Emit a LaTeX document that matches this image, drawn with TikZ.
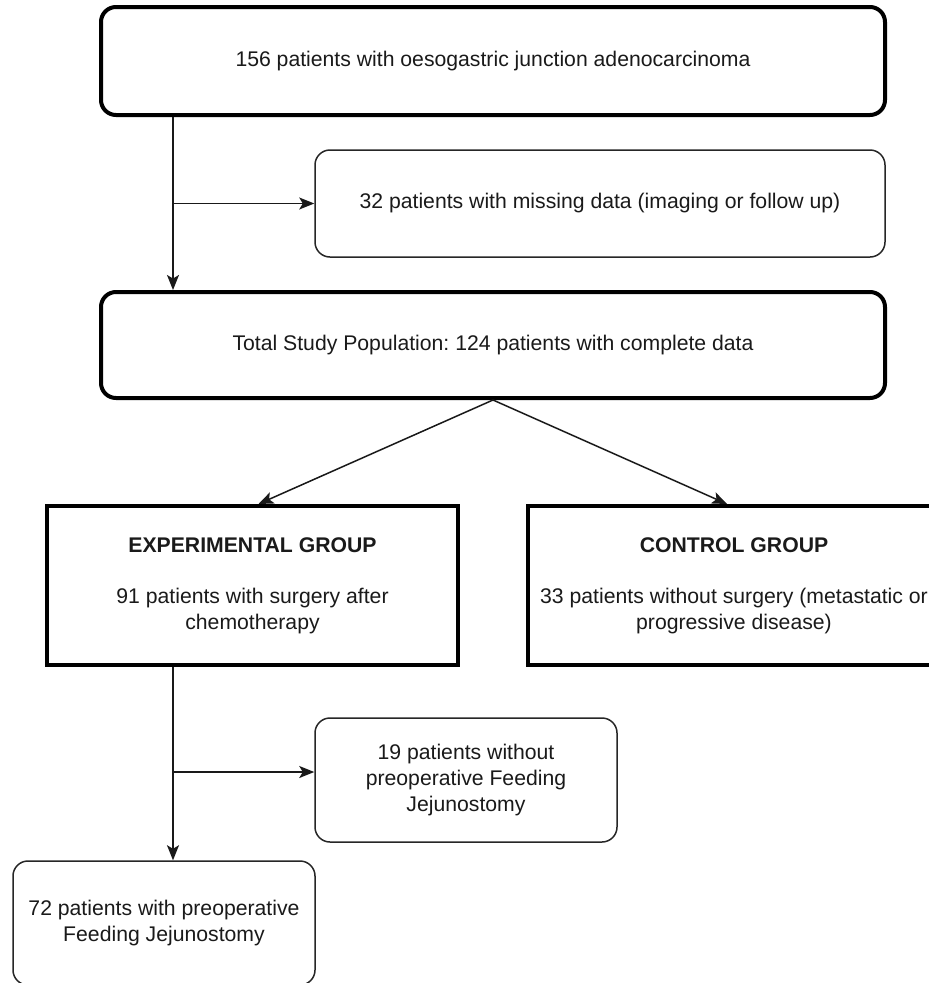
\documentclass[tikz,border=0pt]{standalone}
\usepackage{fontspec}
\setmainfont{Liberation Sans}
\frenchspacing
\usetikzlibrary{arrows.meta}
\definecolor{ink}{HTML}{1A1A1A}
\tikzset{
  thickbox/.style={draw=black, line width=4pt, fill=white, inner sep=0pt, align=center, text=ink},
  thinbox/.style={draw=black!85, line width=1.5pt, fill=white, inner sep=0pt, align=center, text=ink},
  arr/.style={draw=black!90, line width=1.5pt, -{Stealth[length=15pt,width=12pt,inset=3.5pt]}},
  plain/.style={draw=black!90, line width=1.5pt},
}
\begin{document}
\begin{tikzpicture}[x=1pt,y=-1pt, font=\fontsize{21.2pt}{26pt}\selectfont]
\useasboundingbox (0,0) rectangle (929,983);
\clip (0,0) rectangle (929,983);
\fill[white] (0,0) rectangle (929,983);

\node[thickbox, rounded corners=15pt, minimum width=784pt, minimum height=108pt] (box1) at (493,61)
  {156 patients with oesogastric junction adenocarcinoma};
\node[thinbox, rounded corners=15pt, minimum width=570pt, minimum height=107pt] (box2) at (600,203.5)
  {32 patients with missing data (imaging or follow up)};
\node[thickbox, rounded corners=15pt, minimum width=784pt, minimum height=106pt] (box3) at (493,345)
  {Total Study Population: 124 patients with complete data};
\node[thickbox, minimum width=411pt, minimum height=159pt] (exp) at (252.5,585.5)
  {\textbf{EXPERIMENTAL GROUP}\\[25pt]91 patients with surgery after\\chemotherapy};
\node[thickbox, minimum width=412pt, minimum height=159pt] (ctrl) at (734,585.5)
  {\textbf{CONTROL GROUP}\\[25pt]33 patients without surgery (metastatic or\\progressive disease)};
\node[thinbox, rounded corners=15pt, minimum width=302pt, minimum height=124pt] (box19) at (466,780)
  {19 patients without\\preoperative Feeding\\Jejunostomy};
\node[thinbox, rounded corners=15pt, minimum width=302pt, minimum height=124pt] (box72) at (164,923)
  {72 patients with preoperative\\Feeding Jejunostomy};

\coordinate (j1) at (173,203.5);
\coordinate (j2) at (173,772);

\draw[plain] (j1 |- box1.south) -- (j1);
\draw[arr] (j1 |- box1.south) -- (j1 |- box3.north);
\draw[arr] (j1) -- (box2.west);

\draw[arr] (box3.south) -- ([xshift=6pt]exp.north);
\draw[arr] (box3.south) -- ([xshift=-7pt]ctrl.north);

\draw[arr] (j2 |- exp.south) -- (j2 |- box72.north);
\draw[arr] (j2) -- (j2 -| box19.west);
\end{tikzpicture}
\end{document}
